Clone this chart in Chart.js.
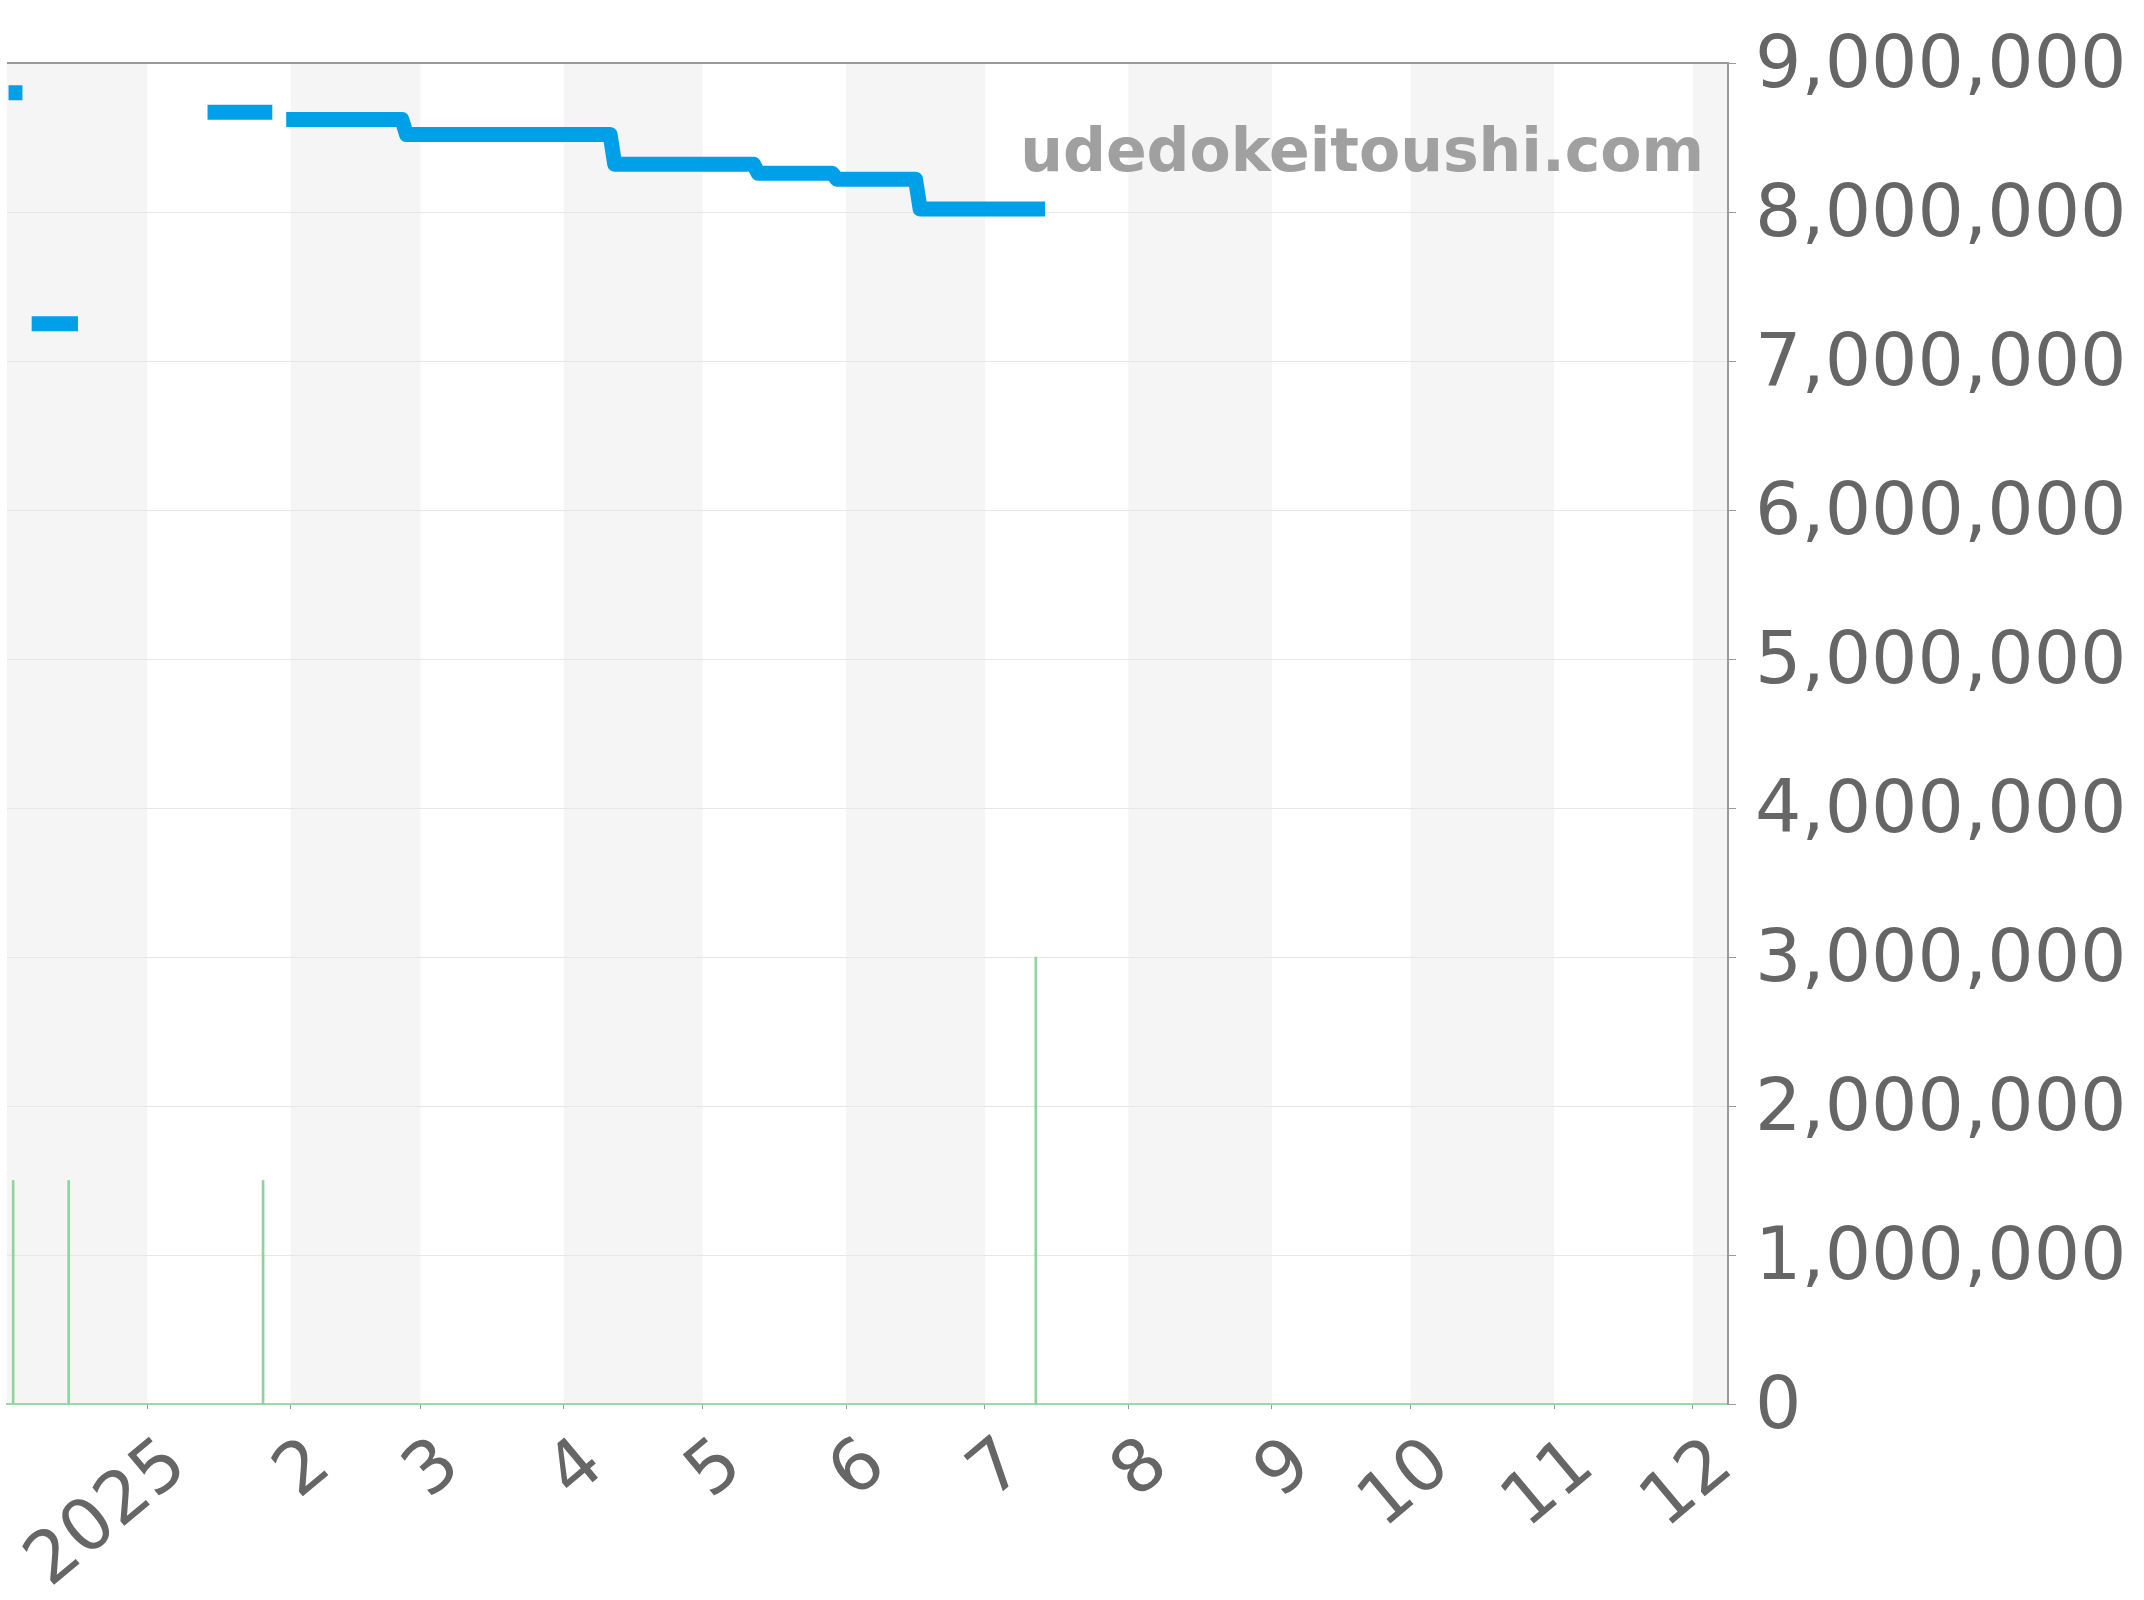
<!DOCTYPE html>
<html>
<head>
<meta charset="utf-8">
<script src="https://cdn.jsdelivr.net/npm/chart.js@4.4.1/dist/chart.umd.min.js"></script>
<style>
html,body{margin:0;padding:0;background:#fff;}
#wrap{width:2144px;height:1600px;}
</style>
</head>
<body>
<div id="wrap"><canvas id="c" width="2144" height="1600"></canvas></div>
<script>
// ---- data ----
const priceDates = ['2024-12-02','2024-12-05','2024-12-06','2024-12-07','2024-12-17','2024-12-18',
  '2025-01-14','2025-01-28','2025-01-29','2025-01-31','2025-02-25','2025-02-26','2025-04-11','2025-04-12',
  '2025-05-12','2025-05-13','2025-05-29','2025-05-30','2025-06-16','2025-06-17','2025-07-14'];
const priceValues = [8800000,8800000,null,7250000,7250000,null,
  8670000,8670000,null,8620000,8620000,8520000,8520000,8320000,
  8320000,8260000,8260000,8220000,8220000,8020000,8020000];
const volumeDates = ['2024-12-03','2024-12-15','2025-01-26','2025-07-12'];
const volumeValues = [1500000,1500000,1500000,3000000];
const tickDates = ['2025-01-01','2025-02-01','2025-03-01','2025-04-01','2025-05-01','2025-06-01',
  '2025-07-01','2025-08-01','2025-09-01','2025-10-01','2025-11-01','2025-12-01'];
const tickLabels = ['2025','2','3','4','5','6','7','8','9','10','11','12'];
const monthBounds = ['2024-12-01','2025-01-01','2025-02-01','2025-03-01','2025-04-01','2025-05-01','2025-06-01',
  '2025-07-01','2025-08-01','2025-09-01','2025-10-01','2025-11-01','2025-12-01','2026-01-01'];
const axisStart = '2024-12-01T16:00';
const axisEnd = '2025-12-08T14:00';
const yTicks = [0,1000000,2000000,3000000,4000000,5000000,6000000,7000000,8000000,9000000];
const watermark = 'udedokeitoushi.com';

// ---- helpers ----
const BASE = Date.UTC(2025,0,1);
function day(s){ const t = s.length > 10 ? s : s + 'T00:00'; return (Date.parse(t + ':00Z') - BASE)/86400000; }

const linePts = priceDates.map((d,i)=>({x:day(d), y:priceValues[i]}));
const barPts = volumeDates.map((d,i)=>({x:day(d), y:volumeValues[i]}));
const tickVals = tickDates.map(day);

const FONT = '"DejaVu Sans", sans-serif';

function shiftLabels(s, dx, dy){
  if (s.__shifted) return;
  s.__shifted = true;
  const orig = s._computeLabelItems;
  s._computeLabelItems = function(ca){
    const items = orig.call(this, ca);
    items.forEach(it => {
      const t = it.options.translation;
      it.options.translation = [t[0] + dx, t[1] + dy];
    });
    return items;
  };
  s._labelItems = null;
}

const bgPlugin = {
  id:'bg',
  beforeDraw(chart){
    const {ctx, chartArea:a, scales:{x}} = chart;
    ctx.save();
    ctx.beginPath(); ctx.rect(a.left, a.top, a.right-a.left, a.bottom-a.top); ctx.clip();
    for(let i=0;i<monthBounds.length-1;i++){
      if(i%2!==0) continue;
      const x0 = x.getPixelForValue(day(monthBounds[i]));
      const x1 = x.getPixelForValue(day(monthBounds[i+1]));
      ctx.fillStyle = '#f5f5f5';
      ctx.fillRect(x0, a.top, x1-x0, a.bottom-a.top);
    }
    ctx.restore();
  },
  afterDraw(chart){
    const {ctx, chartArea:a} = chart;
    ctx.save();
    ctx.strokeStyle = '#999';
    ctx.lineWidth = 2;
    ctx.beginPath(); ctx.moveTo(a.left, a.top); ctx.lineTo(a.right, a.top); ctx.stroke();
    ctx.font = 'bold 60px ' + FONT;
    ctx.fillStyle = '#a0a0a0';
    ctx.textAlign = 'right';
    ctx.textBaseline = 'alphabetic';
    ctx.fillText(watermark, 1704, 171);
    ctx.restore();
  }
};

new Chart(document.getElementById('c'), {
  type:'bar',
  data:{
    datasets:[
      {
        type:'line',
        data:linePts,
        borderColor:'#00a0e9',
        backgroundColor:'#00a0e9',
        borderWidth:15,
        borderCapStyle:'butt',
        borderJoinStyle:'round',
        pointRadius:0,
        spanGaps:false,
        tension:0,
        order:0
      },
      {
        type:'bar',
        data:barPts,
        backgroundColor:'#8fd39e',
        borderWidth:0,
        barThickness:2,
        order:1
      }
    ]
  },
  options:{
    responsive:false,
    devicePixelRatio:1,
    animation:false,
    layout:{padding:{top:63,left:7,right:0,bottom:0}},
    plugins:{legend:{display:false}, tooltip:{enabled:false}},
    scales:{
      x:{
        type:'linear',
        offset:false,
        min:day(axisStart),
        max:day(axisEnd),
        afterBuildTicks(s){ s.ticks = tickVals.map(v=>({value:v})); },
        afterFit(s){ s.height = 196; },
        afterUpdate(s){ shiftLabels(s, 31, -4); },
        grid:{display:true, offset:false, drawOnChartArea:false, drawTicks:true, tickLength:5, color:'#999', tickColor:'#999'},
        border:{display:true, color:'#9bd8a8', width:2, dash:[2,2]},
        ticks:{
          autoSkip:false,
          minRotation:40, maxRotation:40,
          padding:0,
          color:'#666',
          font:{family:FONT, size:72, lineHeight:1.85},
          callback(v){ const i = tickVals.indexOf(v); return i>=0 ? tickLabels[i] : ''; }
        }
      },
      y:{
        position:'right',
        min:0, max:9000000,
        afterBuildTicks(s){ s.ticks = yTicks.map(v=>({value:v})); },
        afterFit(s){ s.width = 2144-1728; },
        afterUpdate(s){ shiftLabels(s, 0, 5); },
        grid:{color:'#e6e6e6', lineWidth:1, tickLength:8, tickColor:'#999'},
        border:{display:true, color:'#999', width:2},
        ticks:{
          padding:19,
          color:'#666',
          font:{family:FONT, size:73},
          callback(v){ return v.toLocaleString('en-US'); }
        }
      }
    }
  },
  plugins:[bgPlugin]
});
</script>
</body>
</html>
